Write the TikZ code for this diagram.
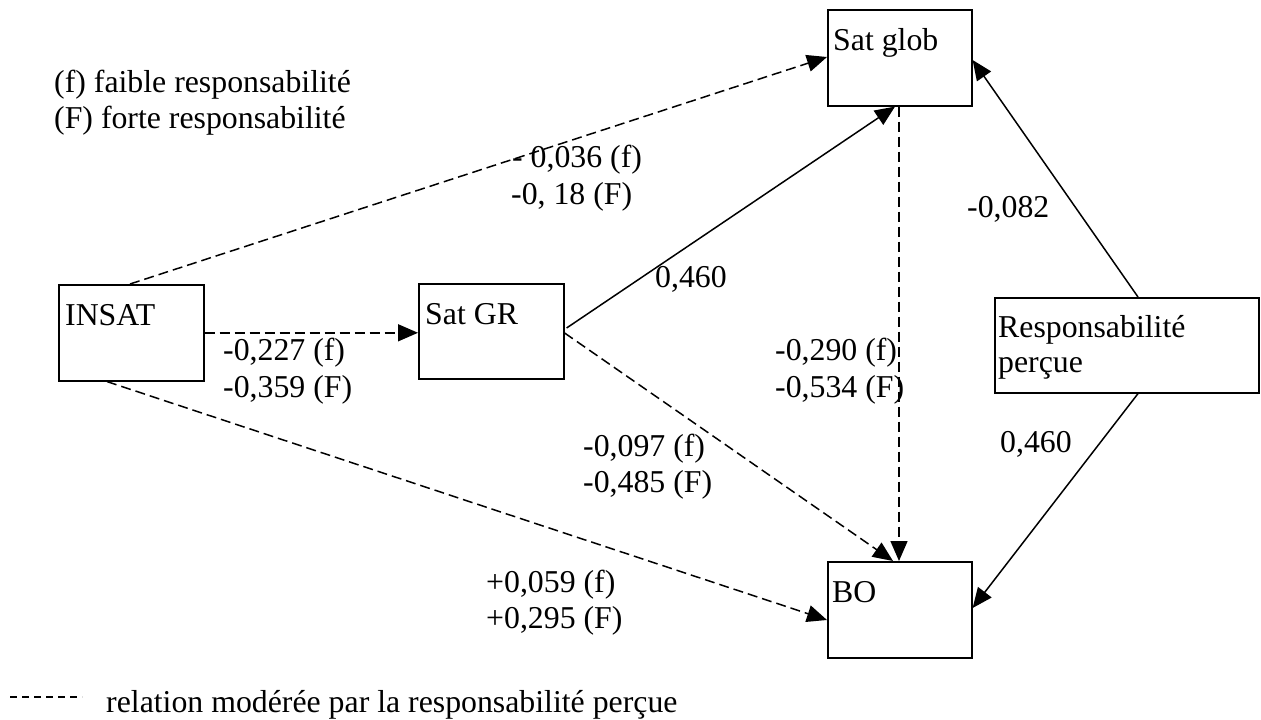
\documentclass[tikz,border=0pt]{standalone}
\usepackage{fontspec}
\setmainfont{Liberation Serif}
\usetikzlibrary{arrows.meta,calc}

\tikzset{
  varbox/.style={draw, line width=1.6pt, rectangle, minimum width=#1, minimum height=96pt,
                 inner sep=0pt, anchor=north west},
  txt/.style={anchor=base west, inner sep=0pt, font=\fontsize{31.8}{36}\selectfont},
  link/.style={line width=1.5pt, -{Triangle[length=20pt,width=17pt]}},
  modlink/.style={link, dash pattern=on 10pt off 5pt},
}

\begin{document}
\begin{tikzpicture}[x=1pt, y=-1pt]
\useasboundingbox (0,0) rectangle (1261,720);

% variable boxes
\node[varbox=145pt] (insat)   at (58,284)  {};
\node[varbox=145pt, minimum height=95pt] (satgr) at (418,283) {};
\node[varbox=144pt] (satglob) at (827,9)   {};
\node[varbox=144pt] (bo)      at (827,561) {};
\node[varbox=264pt, minimum height=95pt] (resp) at (994,297) {};

% box captions, top-left aligned
\node[txt] (tinsat)   at ($(insat.north west)+(7,41)$)   {INSAT};
\node[txt] (tsatgr)   at ($(satgr.north west)+(7,41)$)   {Sat GR};
\node[txt] (tsatglob) at ($(satglob.north west)+(6,41)$) {Sat glob};
\node[txt] (tbo)      at ($(bo.north west)+(5,41)$)      {BO};
\node[txt] (tresp1)   at ($(resp.north west)+(4,40)$)    {Responsabilité};
\node[txt] (tresp2)   at ($(resp.north west)+(4,75)$)    {perçue};

% paths
\draw[modlink] ($(insat.north west)+(72,0)$) -- ($(satglob.north west)+(0,48)$);
\draw[modlink] (insat.east) -- (insat.east -| satgr.west);
\draw[modlink] ($(insat.south west)+(49,0)$) -- ($(bo.north west)+(0,59)$);
\draw[link]    ($(satgr.north east)+(2,45)$) -- ($(satglob.south west)+(68,0)$);
\draw[modlink] ($(satgr.north east)+(0,50)$) -- ($(bo.north west)+(66,0)$);
\draw[modlink] ($(satglob.south west)+(72,0)$) -- ($(bo.north west)+(72,0)$);
\draw[link]    ($(resp.north west)+(144,0)$) -- ($(satglob.north east)+(0,51)$);
\draw[link]    ($(resp.south west)+(144,0)$) -- ($(bo.north east)+(0,47)$);

% coefficients
\node[txt] (c1a) at (512,167) {- 0,036 (f)};
\node[txt] (c1b) at (511,204) {-0, 18 (F)};
\node[txt] (c2)  at (655,287) {0,460};
\node[txt] (c3)  at (967,217) {-0,082};
\node[txt] (c4a) at (223,360) {-0,227 (f)};
\node[txt] (c4b) at (223,397) {-0,359 (F)};
\node[txt] (c5a) at (775,360) {-0,290 (f)};
\node[txt] (c5b) at (775,397) {-0,534 (F)};
\node[txt] (c6a) at (583,456) {-0,097 (f)};
\node[txt] (c6b) at (583,492) {-0,485 (F)};
\node[txt] (c7a) at (486,592) {+0,059 (f)};
\node[txt] (c7b) at (486,628) {+0,295 (F)};
\node[txt] (c8)  at (1000,452) {0,460};

% key
\node[txt] (k1) at (54,92)  {(f) faible responsabilité};
\node[txt] (k2) at (54,128) {(F) forte responsabilité};
\coordinate (ks) at (10,697);
\coordinate (ke) at (82,697);
\draw[line width=1.4pt, dash pattern=on 7pt off 5pt] (ks) -- (ke);
\node[txt] (k3) at (106,712) {relation modérée par la responsabilité perçue};
\end{tikzpicture}
\end{document}
